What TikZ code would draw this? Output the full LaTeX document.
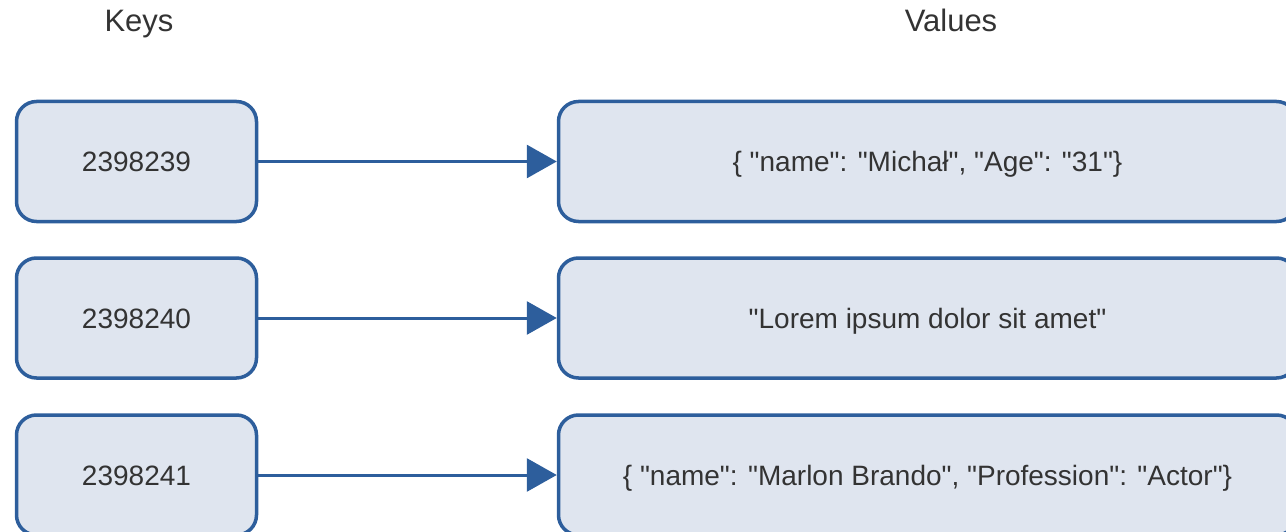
\documentclass[tikz,border=0pt]{standalone}
\usepackage{fontspec}
\setmainfont{Liberation Sans}
\newfontfamily\lsans{Liberation Sans}
\usetikzlibrary{arrows.meta}
\definecolor{boxline}{HTML}{2D5E9C}
\definecolor{boxfill}{HTML}{DFE5EF}
\definecolor{txt}{HTML}{333333}
\tikzset{
  kvbox/.style={draw=boxline, fill=boxfill, line width=3.5pt, rounded corners=20pt,
    minimum height=120pt, inner sep=0pt, text=txt, font=\lsans\fontsize{28}{34}\selectfont,
    text height=21pt, text depth=0pt},
  keybox/.style={kvbox, minimum width=240pt},
  valbox/.style={kvbox, minimum width=738pt},
  header/.style={text=txt, font=\lsans\fontsize{31}{37}\selectfont, inner sep=0pt, anchor=base},
  link/.style={draw=boxline, line width=3pt, -{Triangle[length=30pt,width=33pt]}}
}
\begin{document}
\begin{tikzpicture}[x=1pt,y=-1pt]
\useasboundingbox (0,0) rectangle (1286,532);
\node[header] (hk) at (139,32) {Keys};
\node[header] (hv) at (951,32) {Values};
\node[keybox] (k1) at (136.5,161.5) {2398239};
\node[keybox] (k2) at (136.5,318) {2398240};
\node[keybox] (k3) at (136.5,475) {2398241};
\node[valbox] (v1) at (927.5,161.5) {\{ "name": "Michał", "Age": "31"\}};
\node[valbox] (v2) at (927.5,318) {"Lorem ipsum dolor sit amet"};
\node[valbox] (v3) at (927.5,475) {\{ "name": "Marlon Brando", "Profession": "Actor"\}};
\draw[link] (k1) -- (v1);
\draw[link] (k2) -- (v2);
\draw[link] (k3) -- (v3);
\end{tikzpicture}
\end{document}
